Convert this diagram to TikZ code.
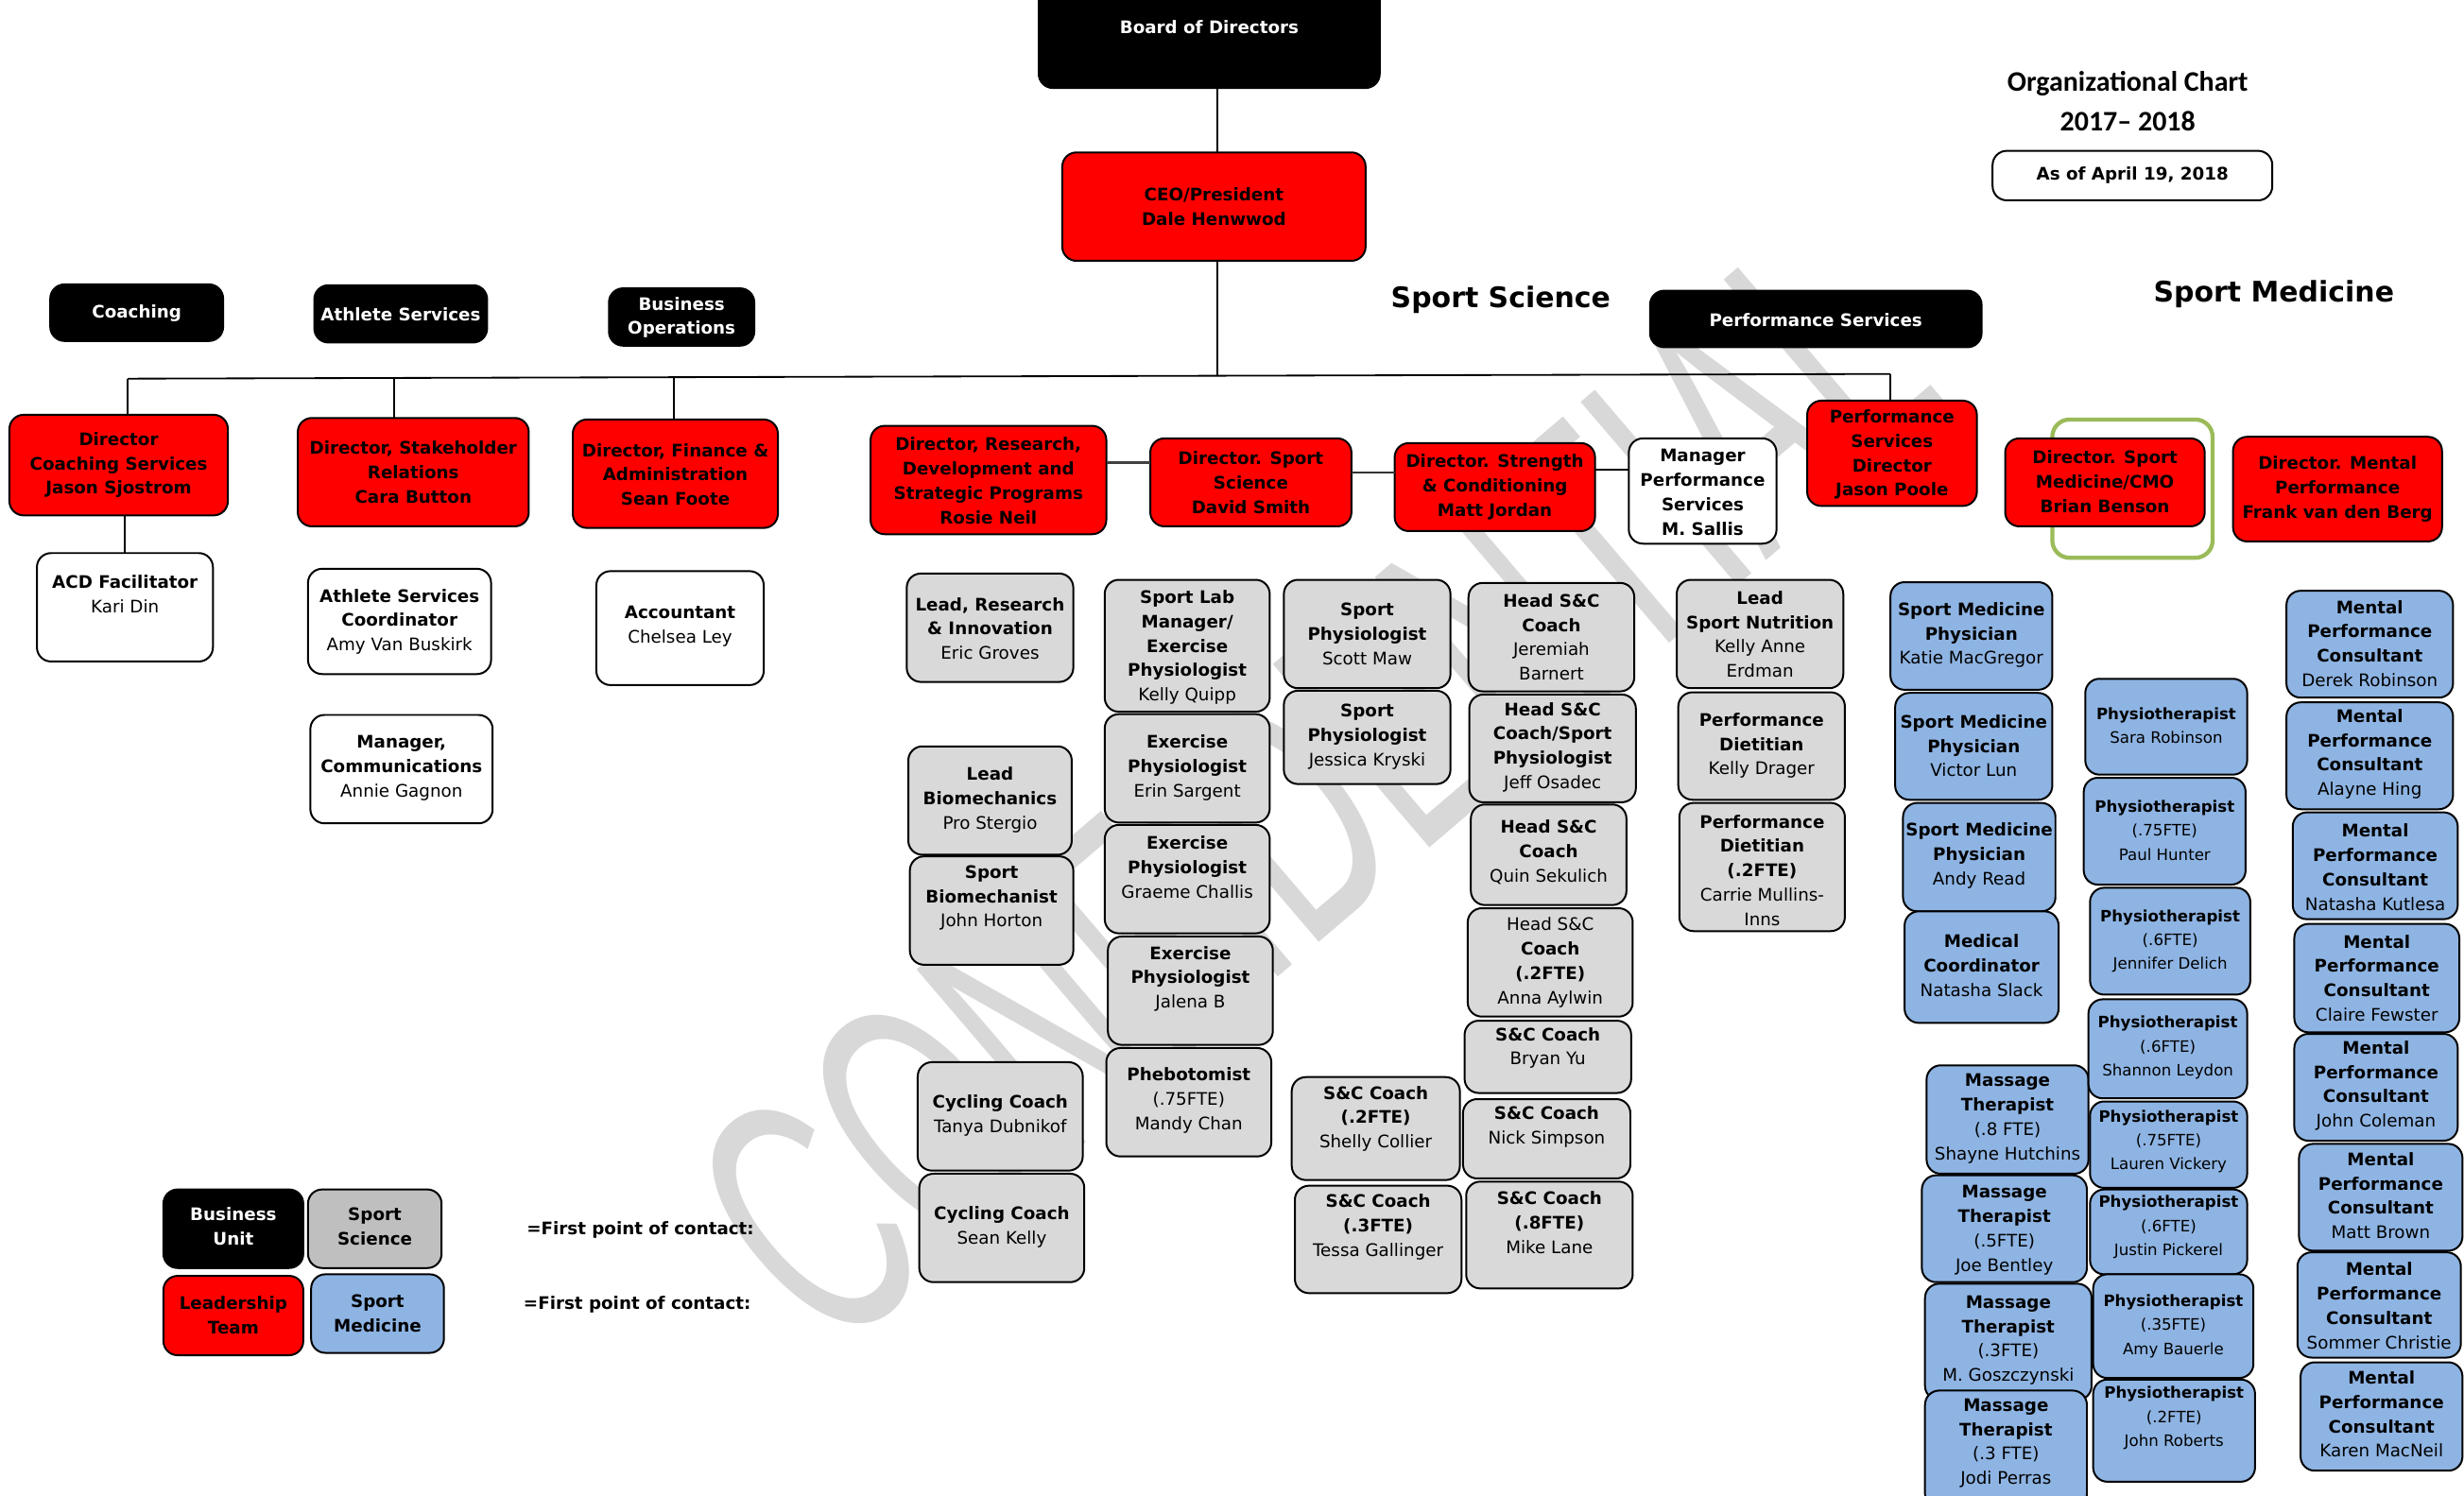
\documentclass[tikz,border=0pt]{standalone}
\usepackage{fontspec}
\usepackage{graphicx}
\setmainfont{DejaVu Sans}
\newfontfamily\calfont{Carlito}
\newfontfamily\wmfont{Liberation Sans}
\definecolor{cRed}{HTML}{FF0000}
\definecolor{cGray}{HTML}{D9D9D9}
\definecolor{cLegGray}{HTML}{BFBFBF}
\definecolor{cBlue}{HTML}{8EB4E3}
\definecolor{cGreen}{HTML}{9BBB59}
\definecolor{cWM}{HTML}{D8D8D8}
\newcommand\B[1]{\textbf{#1}}
\tikzset{
  box/.style={draw=black, line width=1.2pt, rounded corners=9pt, inner sep=0pt, outer sep=0pt},
  redbox/.style={box, fill=cRed},
  graybox/.style={box, fill=cGray},
  legbox/.style={box, fill=cLegGray},
  bluebox/.style={box, fill=cBlue},
  whitebox/.style={box, fill=white},
  blackbox/.style={box, fill=black},
  txt/.style={align=center, inner sep=0pt, outer sep=0pt, font=\fontsize{11}{15.5}\selectfont},
  btxt/.style={txt, font=\fontsize{11}{15.5}\selectfont\bfseries},
  wtxt/.style={btxt, text=white},
  ptxt/.style={txt, font=\fontsize{10}{15.2}\selectfont},
  conn/.style={draw=black, line width=1.1pt},
  head/.style={inner sep=0pt, font=\fontsize{18}{21}\selectfont\bfseries},
  wmletter/.style={rotate=40.5, inner sep=0pt, text=cWM, font=\wmfont\fontsize{223}{223}\selectfont},
}
% \obox{boxstyle}{textstyle}{name}{x1}{y1}{x2}{y2}{text y}{text}
\newcommand\obox[9]{%
  \node[#1, minimum width={(#6)-(#4)}, minimum height={(#7)-(#5)}] (#3) at ({((#4)+(#6))/2},{((#5)+(#7))/2}) {};
  \node[#2] (#3t) at ({((#4)+(#6))/2},#8) {#9};
}
\begin{document}
\begin{tikzpicture}[x=1pt,y=-1pt]
\useasboundingbox (0,0) rectangle (1568,952);
\fill[white] (0,0) rectangle (1568,952);

% watermark, one letter at a time along a 40.5 degree baseline
\foreach \ch/\o [count=\i] in {C/-3.306, O/-2.556, N/-1.806, F/-1.1395, I/-0.695, D/-0.195, E/0.4995, N/1.194, T/1.8605, I/2.305, A/2.7775, L/3.389}
  \node[wmletter] (wm\i) at ({836+\o*128*cos(40.5)},{502-\o*128*sin(40.5)}) {\scalebox{0.575}[1]{\ch}};

% top
\obox{blackbox}{wtxt}{board}{661}{-12}{878}{56}{17.5}{Board of Directors}
\obox{redbox}{btxt}{ceo}{676}{97}{869}{166}{131.5}{CEO/President\\Dale Henwwod}

\node[inner sep=0pt, font=\calfont\bfseries\fontsize{18}{20}\selectfont] (title) at (1354,53) {Organizational Chart};
\node[inner sep=0pt, font=\calfont\bfseries\fontsize{18}{20}\selectfont] (year) at (1354,77) {2017– 2018};
\obox{whitebox}{btxt}{asof}{1268}{96}{1446}{127.5}{111.7}{As of April 19, 2018}

% unit labels
\obox{blackbox}{wtxt}{lblCoach}{32}{181}{142}{217}{199.5}{Coaching}
\obox{blackbox}{wtxt}{lblAth}{200}{181.5}{310}{218}{200}{Athlete Services}
\obox{blackbox}{wtxt}{lblBus}{387.5}{183.5}{480}{220}{202}{Business\\Operations}
\obox{blackbox}{wtxt}{lblPerf}{1050}{185}{1261}{221}{203.5}{Performance Services}
\node[head] (hSci) at (955,191) {Sport Science};
\node[head] (hMed) at (1447,187.5) {Sport Medicine};

% directors
\obox{redbox}{btxt}{dCoach}{6}{264}{145}{328}{296}{Director\\Coaching Services\\Jason Sjostrom}
\obox{redbox}{btxt}{dStake}{189.5}{266}{336.5}{335}{300.5}{Director, Stakeholder\\Relations\\Cara Button}
\obox{redbox}{btxt}{dFin}{364.5}{267}{495}{336}{302}{Director, Finance \&\\Administration\\Sean Foote}
\obox{redbox}{btxt}{dRD}{554}{271}{704}{340}{306}{Director, Research,\\Development and\\Strategic Programs\\Rosie Neil}
\obox{redbox}{btxt}{dSS}{732}{279}{860}{335}{307}{Director. Sport\\Science\\David Smith}
\obox{redbox}{btxt}{dSC}{887.5}{282}{1015}{338}{310}{Director. Strength\\\& Conditioning\\Matt Jordan}
\obox{whitebox}{btxt}{mPS}{1036.5}{279}{1130.5}{346}{313.3}{Manager\\Performance\\Services\\M. Sallis}
\obox{redbox}{btxt}{dPS}{1150}{255}{1258}{322}{289.4}{Performance\\Services\\Director\\Jason Poole}
\node[draw=cGreen, line width=2.6pt, rounded corners=11pt, inner sep=0pt, minimum width=102pt, minimum height=88pt] (cmoRing) at (1357,311) {};
\obox{redbox}{btxt}{dSM}{1276}{279}{1403}{335}{306.5}{Director. Sport\\Medicine/CMO\\Brian Benson}
\obox{redbox}{btxt}{dMP}{1421}{278}{1554}{344.6}{311.4}{Director. Mental\\Performance\\Frank van den Berg}

% white staff boxes
\obox{whitebox}{txt}{acd}{23.5}{352}{135.5}{421}{378}{\B{ACD Facilitator}\\Kari Din}
\obox{whitebox}{txt}{asc}{196}{362}{312.5}{429}{395.7}{\B{Athlete Services}\\\B{Coordinator}\\Amy Van Buskirk}
\obox{whitebox}{txt}{mcom}{197.5}{455}{313.5}{524}{488.7}{\B{Manager,}\\\B{Communications}\\Annie Gagnon}
\obox{whitebox}{txt}{acct}{379.5}{363.5}{486}{436}{398.5}{\B{Accountant}\\Chelsea Ley}

% sport science (gray)
\obox{graybox}{txt}{g11}{577}{365}{683}{434}{400}{\B{Lead, Research}\\\B{\& Innovation}\\Eric Groves}
\obox{graybox}{txt}{g12}{578}{475}{682}{544}{509}{\B{Lead}\\\B{Biomechanics}\\Pro Stergio}
\obox{graybox}{txt}{g13}{579}{545}{683}{614}{571.5}{\B{Sport}\\\B{Biomechanist}\\John Horton}
\obox{graybox}{txt}{g14}{584}{676}{689}{745}{710}{\B{Cycling Coach}\\Tanya Dubnikof}
\obox{graybox}{txt}{g15}{585}{747}{690}{816}{781}{\B{Cycling Coach}\\Sean Kelly}

\obox{graybox}{txt}{g21}{703}{369}{808}{453}{412}{\B{Sport Lab}\\\B{Manager/}\\\B{Exercise}\\\B{Physiologist}\\Kelly Quipp}
\obox{graybox}{txt}{g22}{703}{454.5}{808}{523.5}{488.5}{\B{Exercise}\\\B{Physiologist}\\Erin Sargent}
\obox{graybox}{txt}{g23}{703}{525}{808}{594}{552}{\B{Exercise}\\\B{Physiologist}\\Graeme Challis}
\obox{graybox}{txt}{g24}{705}{596}{810}{665}{623}{\B{Exercise}\\\B{Physiologist}\\Jalena B}
\obox{graybox}{txt}{g25}{704}{667}{809}{736}{700.5}{\B{Phebotomist}\\(.75FTE)\\Mandy Chan}

\obox{graybox}{txt}{g31}{817}{369}{923}{438}{403.5}{\B{Sport}\\\B{Physiologist}\\Scott Maw}
\obox{graybox}{txt}{g32}{817}{439.6}{923}{499}{469}{\B{Sport}\\\B{Physiologist}\\Jessica Kryski}
\obox{graybox}{txt}{g33}{822}{685.5}{929}{751}{712}{\B{S\&C Coach}\\\B{(.2FTE)}\\Shelly Collier}
\obox{graybox}{txt}{g34}{824}{754.6}{930}{823}{781}{\B{S\&C Coach}\\\B{(.3FTE)}\\Tessa Gallinger}

\obox{graybox}{txt}{g41}{934.5}{371}{1040}{440}{405.5}{\B{Head S\&C}\\\B{Coach}\\Jeremiah\\Barnert}
\obox{graybox}{txt}{g42}{935}{442}{1041}{510.6}{475.6}{\B{Head S\&C}\\\B{Coach/Sport}\\\B{Physiologist}\\Jeff Osadec}
\obox{graybox}{txt}{g43}{936}{512}{1035}{576}{542.5}{\B{Head S\&C}\\\B{Coach}\\Quin Sekulich}
\obox{graybox}{txt}{g44}{934}{578}{1039}{647}{612.6}{Head S\&C\\\B{Coach}\\\B{(.2FTE)}\\Anna Aylwin}
\obox{graybox}{txt}{g45}{932}{649.6}{1038}{695.6}{667}{\B{S\&C Coach}\\Bryan Yu}
\obox{graybox}{txt}{g46}{931}{699.5}{1037.5}{750}{717}{\B{S\&C Coach}\\Nick Simpson}
\obox{graybox}{txt}{g47}{933}{752}{1039}{820}{778}{\B{S\&C Coach}\\\B{(.8FTE)}\\Mike Lane}

\obox{graybox}{txt}{g51}{1067}{369}{1173}{438}{403.7}{\B{Lead}\\\B{Sport Nutrition}\\Kelly Anne\\Erdman}
\obox{graybox}{txt}{g52}{1068}{440.6}{1174}{509}{474.6}{\B{Performance}\\\B{Dietitian}\\Kelly Drager}
\obox{graybox}{txt}{g53}{1068.7}{511}{1174}{592.6}{553.8}{\B{Performance}\\\B{Dietitian}\\\B{(.2FTE)}\\Carrie Mullins-\\Inns}

% sport medicine (blue)
\obox{bluebox}{txt}{b11}{1203}{370.5}{1306}{439}{404.2}{\B{Sport Medicine}\\\B{Physician}\\Katie MacGregor}
\obox{bluebox}{txt}{b12}{1206}{441}{1306}{509}{474.7}{\B{Sport Medicine}\\\B{Physician}\\Victor Lun}
\obox{bluebox}{txt}{b13}{1211}{511}{1308}{580}{544.5}{\B{Sport Medicine}\\\B{Physician}\\Andy Read}
\obox{bluebox}{txt}{b14}{1212}{580}{1310}{651}{614.5}{\B{Medical}\\\B{Coordinator}\\Natasha Slack}
\obox{bluebox}{txt}{b15}{1226}{678}{1329}{747}{712}{\B{Massage}\\\B{Therapist}\\(.8 FTE)\\Shayne Hutchins}
\obox{bluebox}{txt}{b16}{1223}{748}{1328}{816}{783}{\B{Massage}\\\B{Therapist}\\(.5FTE)\\Joe Bentley}
\obox{bluebox}{txt}{b17}{1225}{817}{1331}{891}{853}{\B{Massage}\\\B{Therapist}\\(.3FTE)\\M. Goszczynski}
\obox{bluebox}{txt}{b18}{1225}{885}{1328}{960}{918.5}{\B{Massage}\\\B{Therapist}\\(.3 FTE)\\Jodi Perras}

\obox{bluebox}{ptxt}{b21}{1327}{432}{1430}{493}{462}{\B{Physiotherapist}\\Sara Robinson}
\obox{bluebox}{ptxt}{b22}{1326}{495}{1429}{563}{528.5}{\B{Physiotherapist}\\(.75FTE)\\Paul Hunter}
\obox{bluebox}{ptxt}{b23}{1330}{565}{1432}{633}{599}{\B{Physiotherapist}\\(.6FTE)\\Jennifer Delich}
\obox{bluebox}{ptxt}{b24}{1329}{636}{1430}{699}{666.7}{\B{Physiotherapist}\\(.6FTE)\\Shannon Leydon}
\obox{bluebox}{ptxt}{b25}{1330}{701}{1430}{756}{726.5}{\B{Physiotherapist}\\(.75FTE)\\Lauren Vickery}
\obox{bluebox}{ptxt}{b26}{1330}{757}{1430}{811}{781}{\B{Physiotherapist}\\(.6FTE)\\Justin Pickerel}
\obox{bluebox}{ptxt}{b27}{1332}{811}{1434}{877}{844}{\B{Physiotherapist}\\(.35FTE)\\Amy Bauerle}
\obox{bluebox}{ptxt}{b28}{1332}{878}{1435}{943}{902.5}{\B{Physiotherapist}\\(.2FTE)\\John Roberts}

\obox{bluebox}{txt}{b31}{1455}{376}{1561}{444}{409.5}{\B{Mental}\\\B{Performance}\\\B{Consultant}\\Derek Robinson}
\obox{bluebox}{txt}{b32}{1455}{447}{1561}{515}{480}{\B{Mental}\\\B{Performance}\\\B{Consultant}\\Alayne Hing}
\obox{bluebox}{txt}{b33}{1459}{517}{1564}{585}{552}{\B{Mental}\\\B{Performance}\\\B{Consultant}\\Natasha Kutlesa}
\obox{bluebox}{txt}{b34}{1460}{588}{1565}{657}{622.5}{\B{Mental}\\\B{Performance}\\\B{Consultant}\\Claire Fewster}
\obox{bluebox}{txt}{b35}{1460}{658}{1564}{726}{691}{\B{Mental}\\\B{Performance}\\\B{Consultant}\\John Coleman}
\obox{bluebox}{txt}{b36}{1463}{728}{1567}{796}{761}{\B{Mental}\\\B{Performance}\\\B{Consultant}\\Matt Brown}
\obox{bluebox}{txt}{b37}{1462}{797}{1566}{864}{831}{\B{Mental}\\\B{Performance}\\\B{Consultant}\\Sommer Christie}
\obox{bluebox}{txt}{b38}{1464}{867}{1567}{936}{900}{\B{Mental}\\\B{Performance}\\\B{Consultant}\\Karen MacNeil}

% legend
\obox{blackbox}{wtxt}{legBU}{104}{757}{193}{807}{780.5}{Business\\Unit}
\obox{legbox}{btxt}{legSS}{196}{757}{281}{807}{780.5}{Sport\\Science}
\obox{redbox}{btxt}{legLT}{104}{812}{193}{862.5}{837}{Leadership\\Team}
\obox{bluebox}{btxt}{legSM}{198}{811}{282.5}{861}{836}{Sport\\Medicine}
\node[btxt] (fpc1) at (407.5,782.5) {=First point of contact:};
\node[btxt] (fpc2) at (405.5,830.5) {=First point of contact:};

% connectors
\coordinate (hL) at (81.3,241);
\coordinate (hR) at (1203,238);
\coordinate (ceoX) at (774.5,0);
\coordinate (j2) at (251,240.5);
\coordinate (j3) at (429,240.3);
\coordinate (r1) at (0,294.4);
\coordinate (r2) at (0,300.6);
\coordinate (r3) at (0,298.7);
\draw[conn] (ceoX |- board.south) -- (ceoX |- ceo.north);
\draw[conn] (ceoX |- ceo.south) -- (774.5,239.3);
\draw[conn] (hL) -- (hR);
\draw[conn] (hL) -- (hL |- dCoach.north);
\draw[conn] (j2) -- (j2 |- dStake.north);
\draw[conn] (j3) -- (j3 |- dFin.north);
\draw[conn] (hR) -- (hR |- dPS.north);
\draw[conn] (acd.north) -- (acd.north |- dCoach.south);
\draw[conn, line width=1.8pt, draw=black!75] (dRD.east |- r1) -- (dSS.west |- r1);
\draw[conn, line width=1.5pt, draw=black!80] (dSS.east |- r2) -- (dSC.west |- r2);
\draw[conn] (dSC.east |- r3) -- (mPS.west |- r3);
\end{tikzpicture}
\end{document}
